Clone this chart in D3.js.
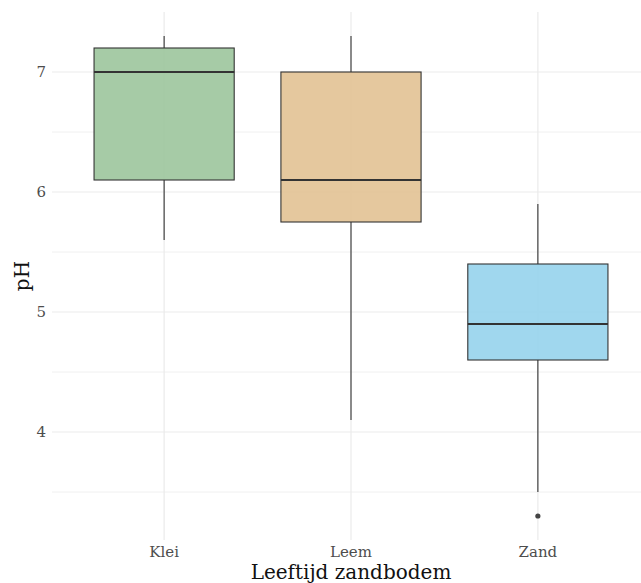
<!DOCTYPE html>
<html><head><meta charset="utf-8">
<script src="https://cdn.jsdelivr.net/npm/d3@7"></script>
<style>body{margin:0;background:#fff}svg{display:block}</style>
</head><body><div id="chart"></div>
<script>
const categories = ["Klei", "Leem", "Zand"];
const lowerWhisker = [5.6, 4.1, 3.5];
const q1 = [6.1, 5.75, 4.6];
const median = [7.0, 6.1, 4.9];
const q3 = [7.2, 7.0, 5.4];
const upperWhisker = [7.3, 7.3, 5.9];
const outliers = [[], [], [3.3]];
const colors = ["#9cc59c", "#e2c294", "#96d3ec"];
const yTicks = [4, 5, 6, 7];
const yMinor = [3.5, 4.5, 5.5, 6.5];

const W = 641, H = 583;
const m = {left: 52, right: -9, top: 12, bottom: 43};
const svg = d3.select("#chart").append("svg").attr("width", W).attr("height", H);
const font = "'DejaVu Serif', serif";

const x = d3.scaleBand().domain(categories).range([m.left, W - m.right]).paddingOuter(0.1).paddingInner(0);
// ggplot discrete: expand 0.6 each side
const step = (W - m.right - m.left) / 3.2;
const xc = c => m.left + step * (0.6 + categories.indexOf(c));
const y = d3.scaleLinear().domain([3.1, 7.5]).range([H - m.bottom, m.top]);

const g = svg.append("g");
// grid
g.selectAll(".ymin").data(yMinor).join("line").attr("x1", m.left).attr("x2", W)
  .attr("y1", d => y(d)).attr("y2", d => y(d)).attr("stroke", "#f0f0f0").attr("stroke-width", 1);
g.selectAll(".ymaj").data(yTicks).join("line").attr("x1", m.left).attr("x2", W)
  .attr("y1", d => y(d)).attr("y2", d => y(d)).attr("stroke", "#ebebeb").attr("stroke-width", 1.2);
g.selectAll(".xmaj").data(categories).join("line").attr("x1", d => xc(d)).attr("x2", d => xc(d))
  .attr("y1", m.top).attr("y2", H - m.bottom).attr("stroke", "#ebebeb").attr("stroke-width", 1.2);

const bw = step * 0.75;
categories.forEach((c, i) => {
  const cx = xc(c);
  g.append("line").attr("x1", cx).attr("x2", cx).attr("y1", y(upperWhisker[i])).attr("y2", y(q3[i]))
    .attr("stroke", "#333").attr("stroke-width", 1.1);
  g.append("line").attr("x1", cx).attr("x2", cx).attr("y1", y(q1[i])).attr("y2", y(lowerWhisker[i]))
    .attr("stroke", "#333").attr("stroke-width", 1.1);
  g.append("rect").attr("x", cx - bw / 2).attr("width", bw).attr("y", y(q3[i])).attr("height", y(q1[i]) - y(q3[i]))
    .attr("fill", colors[i]).attr("fill-opacity", 0.9).attr("stroke", "#333").attr("stroke-width", 1.1);
  g.append("line").attr("x1", cx - bw / 2).attr("x2", cx + bw / 2).attr("y1", y(median[i])).attr("y2", y(median[i]))
    .attr("stroke", "#333").attr("stroke-width", 2.2);
  outliers[i].forEach(o => g.append("circle").attr("cx", cx).attr("cy", y(o)).attr("r", 2.6).attr("fill", "#444"));
});

// axes labels
g.selectAll(".yl").data(yTicks).join("text").attr("x", 46).attr("y", d => y(d)).attr("dy", "0.35em")
  .attr("text-anchor", "end").attr("font-family", font).attr("font-size", 15).attr("fill", "#4d4d4d").text(d => d);
g.selectAll(".xl").data(categories).join("text").attr("x", d => xc(d)).attr("y", 557)
  .attr("text-anchor", "middle").attr("font-family", font).attr("font-size", 15).attr("fill", "#4d4d4d").text(d => d);
svg.append("text").attr("x", (m.left + W - m.right) / 2).attr("y", 579).attr("text-anchor", "middle")
  .attr("font-family", font).attr("font-size", 20).attr("fill", "#111").text("Leeftijd zandbodem");
svg.append("text").attr("transform", `translate(29,${(m.top + H - m.bottom) / 2}) rotate(-90)`).attr("text-anchor", "middle")
  .attr("font-family", font).attr("font-size", 20).attr("fill", "#111").text("pH");
</script></body></html>
